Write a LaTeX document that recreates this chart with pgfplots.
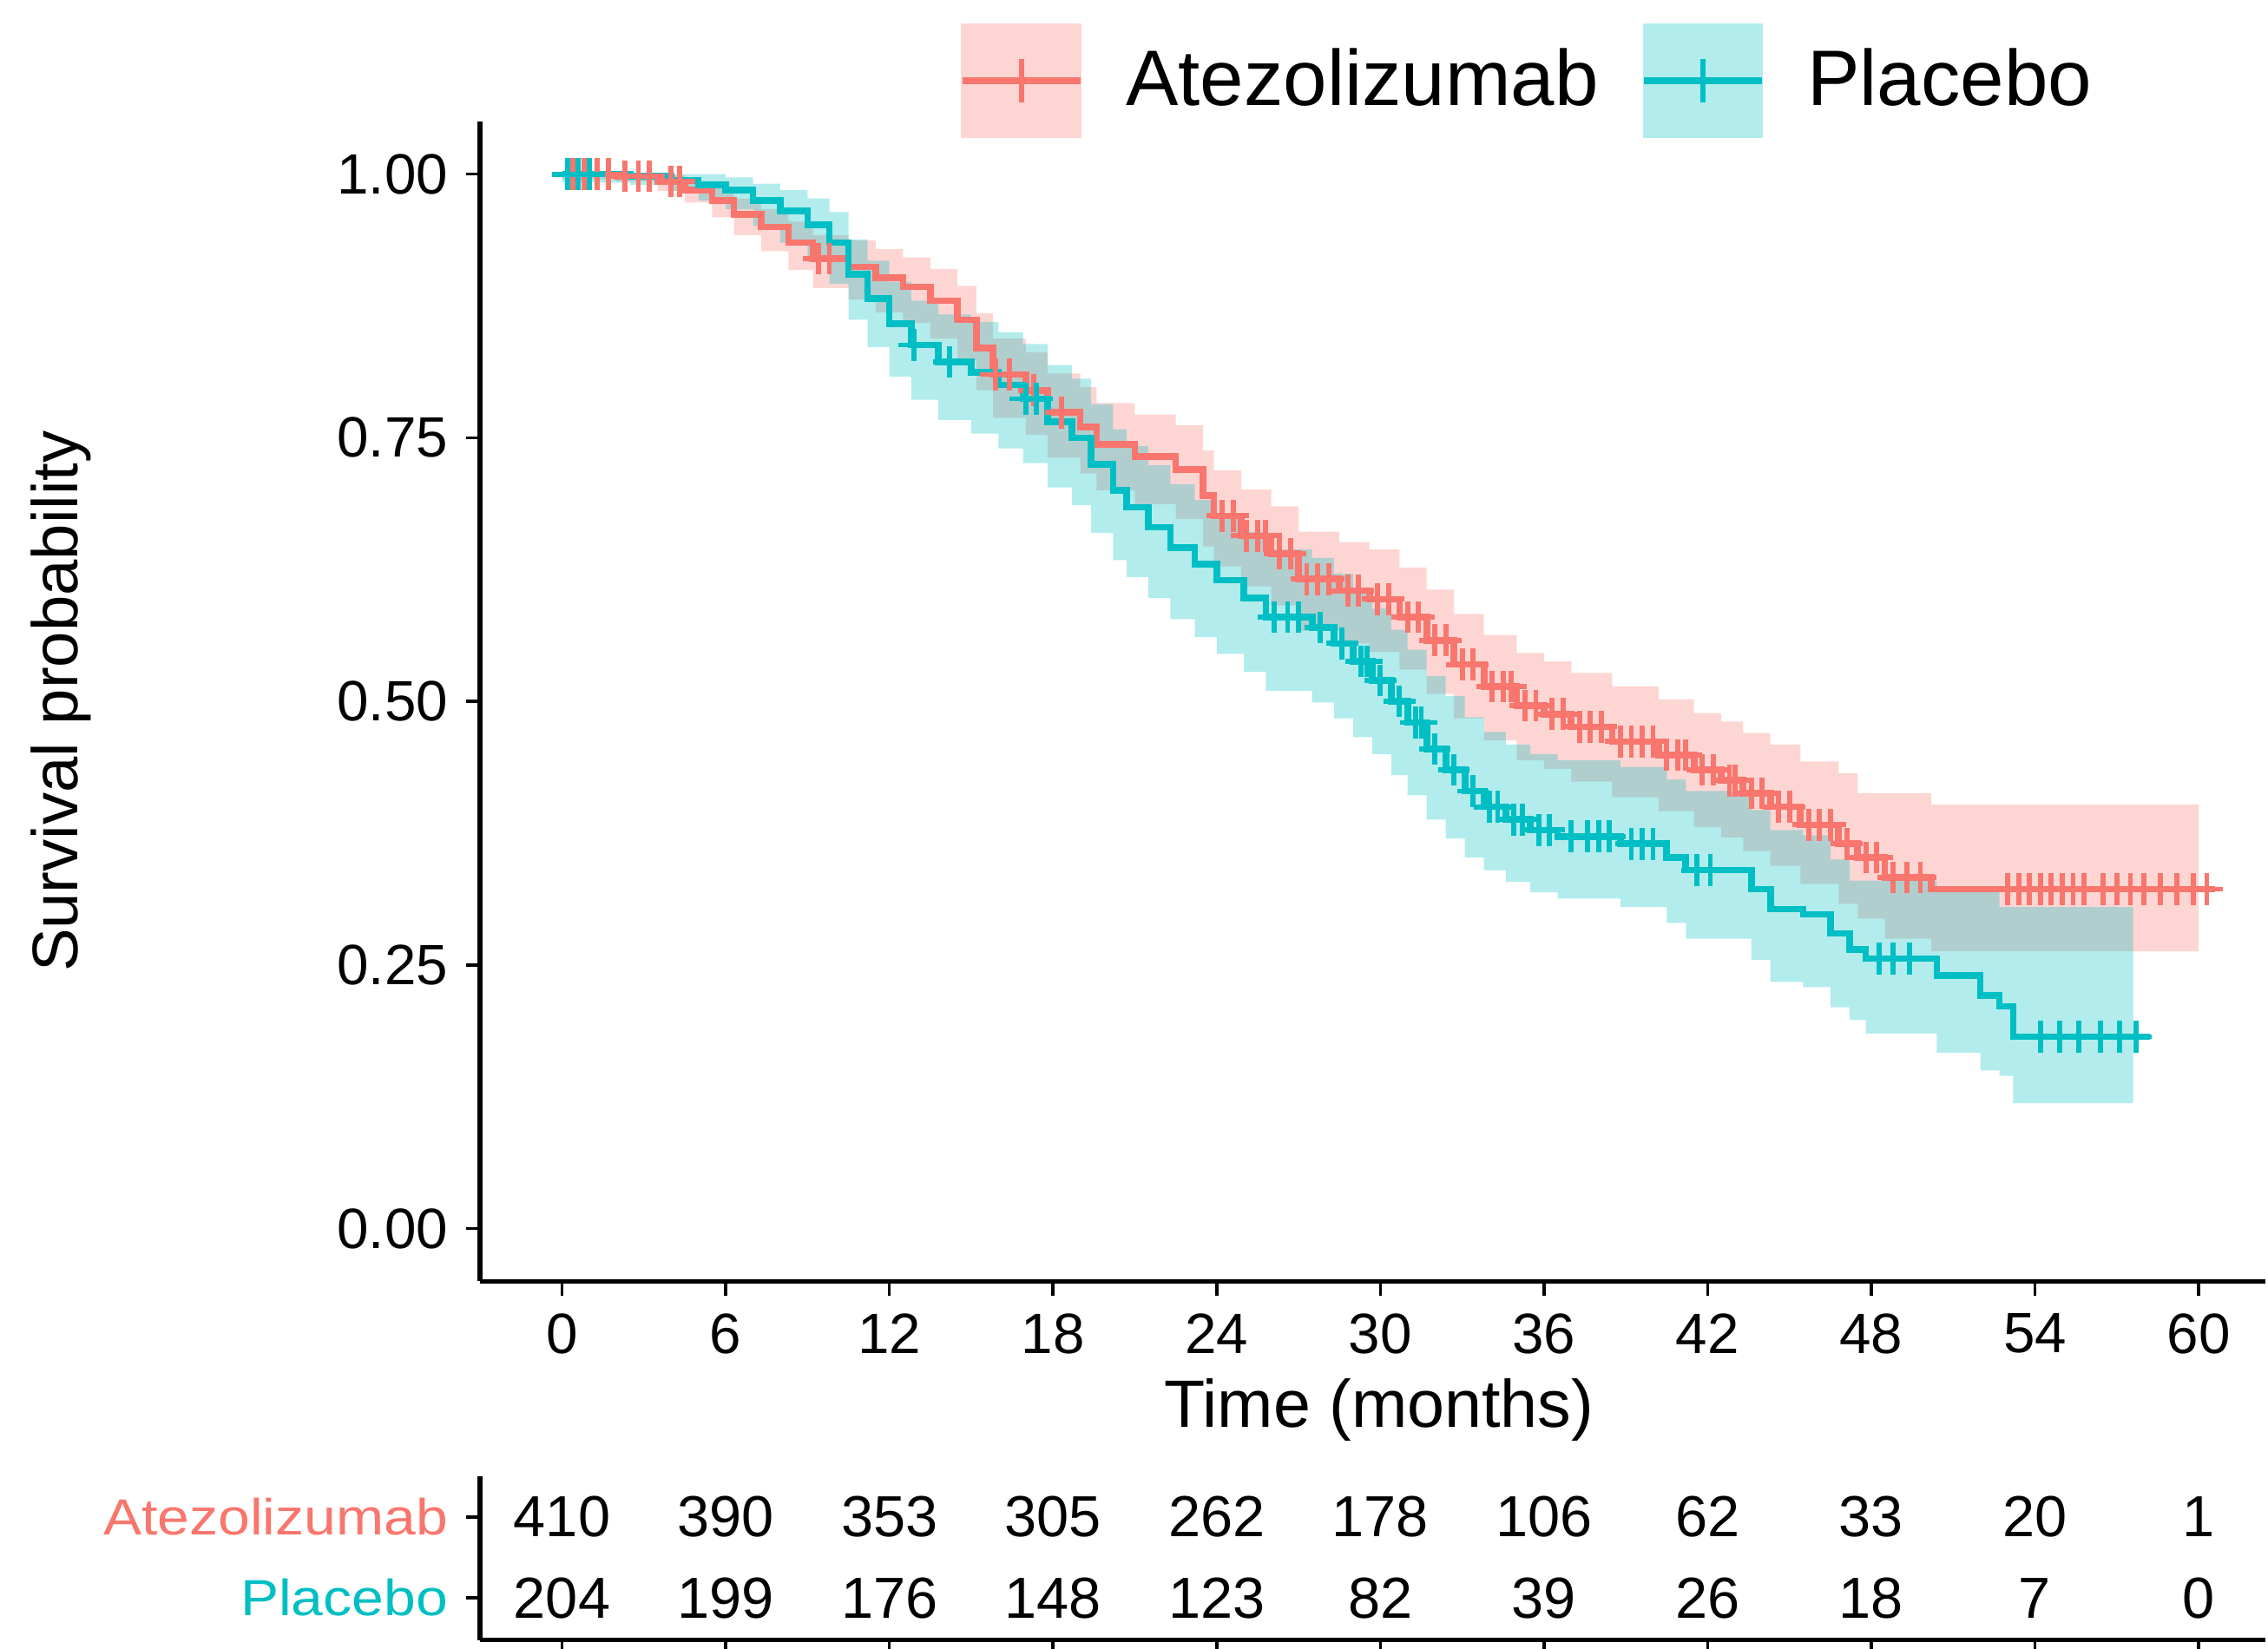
\documentclass[border=0pt]{standalone}
\usepackage{pgfplots}
\pgfplotsset{compat=1.18}
\usepgfplotslibrary{fillbetween}
\usepackage{pgfplotstable}
\usepackage{fontspec}
\setmainfont{Liberation Sans}
\newfontfamily\risklab{Liberation Sans}[FakeStretch=1.13]
\definecolor{atz}{HTML}{F8766D}
\definecolor{plc}{HTML}{00BFC4}

\pgfplotstableread{
t s
0 1.000
2 0.998
3.5 0.993
4.5 0.985
5.5 0.975
6.3 0.962
7.3 0.950
8.3 0.935
9.2 0.920
10.5 0.912
11.5 0.902
12.5 0.893
13.5 0.880
14.5 0.862
15.2 0.835
15.8 0.810
17 0.795
17.8 0.774
19 0.760
19.6 0.744
21 0.732
22.5 0.720
23.5 0.695
23.9 0.676
24.9 0.657
26 0.640
27 0.616
28.5 0.605
29.6 0.597
30.7 0.580
31.7 0.558
32.7 0.535
33.8 0.514
35 0.496
36 0.488
37 0.476
38.5 0.462
40.2 0.449
41.5 0.435
42.5 0.425
43.3 0.413
44.3 0.400
45.4 0.383
46.8 0.365
47.5 0.352
48.5 0.333
50.2 0.322
60.6 0.322
}\atzcurve

\pgfplotstableread{
t lo hi
0 0.995 1.000
2 0.993 1.000
3.5 0.984 0.999
4.5 0.973 0.993
5.5 0.959 0.987
6.3 0.942 0.977
7.3 0.927 0.967
8.3 0.909 0.955
9.2 0.892 0.942
10.5 0.881 0.937
11.5 0.869 0.929
12.5 0.859 0.921
13.5 0.844 0.910
14.5 0.823 0.894
15.2 0.795 0.868
15.8 0.769 0.844
17 0.753 0.831
17.8 0.731 0.811
19 0.716 0.798
19.6 0.700 0.783
21 0.687 0.772
22.5 0.673 0.762
23.5 0.647 0.738
23.9 0.628 0.719
24.9 0.609 0.701
26 0.591 0.685
27 0.567 0.661
28.5 0.555 0.651
29.6 0.547 0.644
30.7 0.530 0.627
31.7 0.507 0.606
32.7 0.484 0.583
33.8 0.463 0.563
35 0.444 0.546
36 0.436 0.538
37 0.424 0.527
38.5 0.409 0.514
40.2 0.396 0.502
41.5 0.381 0.489
42.5 0.371 0.481
43.3 0.358 0.470
44.3 0.344 0.459
45.4 0.327 0.443
46.8 0.308 0.432
47.5 0.294 0.413
48.5 0.275 0.413
50.2 0.263 0.402
60.0 0.263 0.402
}\atzband

\pgfplotstableread{
t s
0.4 1.000
0.8 1.000
1.3 1.000
1.7 1.000
2.3 0.998
2.8 0.998
3.2 0.998
4.0 0.993
4.3 0.993
9.4 0.920
9.8 0.920
15.9 0.810
16.4 0.810
17.3 0.795
18.3 0.774
24.2 0.676
24.6 0.676
25.1 0.657
25.5 0.657
25.8 0.657
26.3 0.640
26.7 0.640
27.3 0.616
27.7 0.616
28.1 0.616
28.8 0.605
29.2 0.605
29.9 0.597
30.3 0.597
31.0 0.580
31.4 0.580
32.0 0.558
32.4 0.558
33.0 0.535
33.4 0.535
34.1 0.514
34.5 0.514
34.8 0.514
35.3 0.496
35.7 0.496
36.3 0.488
36.7 0.488
37.3 0.476
37.7 0.476
38.1 0.476
38.8 0.462
39.2 0.462
39.6 0.462
40.0 0.462
40.5 0.449
40.9 0.449
41.2 0.449
41.8 0.435
42.2 0.435
42.8 0.425
43.0 0.425
43.6 0.413
44.0 0.413
44.6 0.400
45.0 0.400
45.7 0.383
46.1 0.383
46.5 0.383
47.1 0.365
47.8 0.352
48.2 0.352
48.8 0.333
49.3 0.333
49.8 0.333
53.0 0.322
53.4 0.322
53.8 0.322
54.2 0.322
54.6 0.322
55.0 0.322
55.4 0.322
55.8 0.322
56.5 0.322
57.0 0.322
57.5 0.322
58.0 0.322
58.6 0.322
59.2 0.322
59.8 0.322
60.3 0.322
}\atzcens

\pgfplotstableread{
t s
0 1.000
2.5 0.998
4 0.994
5 0.990
6 0.985
7 0.975
8 0.965
9 0.952
9.8 0.935
10.5 0.905
11.2 0.882
12 0.858
12.8 0.838
13.8 0.822
15 0.812
16 0.800
16.9 0.787
17.8 0.765
18.7 0.750
19.4 0.725
20.2 0.700
20.7 0.684
21.5 0.665
22.3 0.646
23.2 0.630
24 0.615
25 0.598
25.8 0.580
27.5 0.570
28.3 0.555
29 0.538
29.7 0.520
30.4 0.500
31 0.480
31.7 0.455
32.4 0.435
33.1 0.415
33.8 0.400
34.6 0.388
35.5 0.378
36.5 0.372
38.8 0.365
40.5 0.352
41.2 0.340
43.6 0.322
44.3 0.303
45.5 0.298
46.5 0.280
47.2 0.265
47.8 0.256
50.4 0.240
52 0.221
52.7 0.211
53.2 0.182
58.2 0.182
}\plccurve

\pgfplotstableread{
t lo hi
0 0.992 1.000
2.5 0.990 1.000
4 0.984 1.000
5 0.975 1.000
6 0.967 0.997
7 0.951 0.991
8 0.935 0.985
9 0.917 0.977
9.8 0.896 0.964
10.5 0.862 0.938
11.2 0.836 0.918
12 0.808 0.898
12.8 0.786 0.880
13.8 0.767 0.867
15 0.754 0.860
16 0.740 0.850
16.9 0.726 0.839
17.8 0.703 0.819
18.7 0.686 0.806
19.4 0.660 0.782
20.2 0.634 0.758
20.7 0.618 0.742
21.5 0.598 0.724
22.3 0.578 0.706
23.2 0.561 0.691
24 0.545 0.677
25 0.528 0.661
25.8 0.510 0.644
27.5 0.499 0.636
28.3 0.484 0.621
29 0.466 0.605
29.7 0.450 0.588
30.4 0.430 0.568
31 0.411 0.549
31.7 0.388 0.524
32.4 0.370 0.505
33.1 0.352 0.485
33.8 0.340 0.471
34.6 0.329 0.459
35.5 0.319 0.450
36.5 0.313 0.444
38.8 0.305 0.438
40.5 0.290 0.426
41.2 0.275 0.415
43.6 0.255 0.397
44.3 0.234 0.378
45.5 0.229 0.373
46.5 0.210 0.350
47.2 0.198 0.330
47.8 0.185 0.330
50.4 0.167 0.320
52 0.150 0.320
52.7 0.145 0.305
53.2 0.119 0.305
57.6 0.119 0.305
}\plcband

\pgfplotstableread{
t s
0.2 1.000
0.6 1.000
1.0 1.000
12.9 0.838
14.2 0.822
17.0 0.787
17.4 0.787
26.1 0.580
26.6 0.580
27.0 0.580
27.8 0.570
28.6 0.555
29.3 0.538
29.5 0.538
30.0 0.520
30.7 0.500
31.3 0.480
31.5 0.480
32.0 0.455
32.7 0.435
33.4 0.415
34.0 0.400
34.3 0.400
34.9 0.388
35.2 0.388
35.8 0.378
36.2 0.378
37.0 0.372
37.6 0.372
38.0 0.372
38.4 0.372
39.2 0.365
39.6 0.365
40.0 0.365
41.6 0.340
42.1 0.340
48.3 0.256
48.8 0.256
49.4 0.256
54.2 0.182
54.9 0.182
55.6 0.182
56.4 0.182
57.1 0.182
57.7 0.182
}\plccens

\pgfplotstableread{
t y n
0 2 410
6 2 390
12 2 353
18 2 305
24 2 262
30 2 178
36 2 106
42 2 62
48 2 33
54 2 20
60 2 1
}\atzrisk

\pgfplotstableread{
t y n
0 1 204
6 1 199
12 1 176
18 1 148
24 1 123
30 1 82
36 1 39
42 1 26
48 1 18
54 1 7
60 1 0
}\plcrisk

\begin{document}
\begin{tikzpicture}
\path (0,0) rectangle (156.8mm,-114.1mm);
\begin{axis}[
  at={(33.236mm,-88.695mm)}, anchor=south west,
  width=123.56mm, height=80.29mm, scale only axis,
  xmin=-3, xmax=62.45, ymin=-0.05, ymax=1.05,
  axis x line*=bottom, axis y line*=left,
  axis line style={line width=1pt, -},
  tick style={line width=0.6pt, black},
  tick align=outside, major tick length=1mm,
  xtick={0,6,...,60},
  ytick={0,0.25,0.5,0.75,1},
  yticklabels={0.00,0.25,0.50,0.75,1.00},
  /pgf/number format/assume math mode=true,
  ticklabel style={font=\fontsize{11.2}{13}\selectfont},
  xlabel={Time (months)}, ylabel={Survival probability},
  xlabel style={font=\fontsize{13.2}{15}\selectfont, at={(axis description cs:0.5035,-0.1259)}, anchor=base},
  ylabel style={font=\fontsize{12.7}{15}\selectfont, at={(axis description cs:-0.235,0.5)}, anchor=center},
  legend style={at={(axis description cs:0.2676,1.0349)}, anchor=west,
    draw=none, fill=none, inner sep=0pt,
    font=\fontsize{15.5}{18}\selectfont,
    /tikz/every even column/.append style={column sep=2.2mm}},
  legend columns=2, legend cell align=left,
]
\addlegendimage{legend image code/.code={
  \fill[atz!30] (0mm,-3.9mm) rectangle (8.2mm,3.9mm);
  \draw[atz, line width=1.3pt] (0mm,0mm) -- (8.2mm,0mm);
  \draw[atz, line width=1.1pt] (4.1mm,-1.5mm) -- (4.1mm,1.5mm);
}}
\addlegendentry{\hspace*{2.2mm}Atezolizumab}
\addlegendimage{legend image code/.code={
  \fill[plc!30] (0mm,-3.9mm) rectangle (8.2mm,3.9mm);
  \draw[plc, line width=1.3pt] (0mm,0mm) -- (8.2mm,0mm);
  \draw[plc, line width=1.1pt] (4.1mm,-1.5mm) -- (4.1mm,1.5mm);
}}
\addlegendentry{\hspace*{2.2mm}Placebo}

\addplot[name path=ahi, draw=none, const plot, forget plot] table[x=t, y=hi] {\atzband};
\addplot[name path=alo, draw=none, const plot, forget plot] table[x=t, y=lo] {\atzband};
\addplot[fill=atz, fill opacity=0.3, draw=none, forget plot] fill between[of=ahi and alo];
\addplot[name path=phi, draw=none, const plot, forget plot] table[x=t, y=hi] {\plcband};
\addplot[name path=plo, draw=none, const plot, forget plot] table[x=t, y=lo] {\plcband};
\addplot[fill=plc, fill opacity=0.3, draw=none, forget plot] fill between[of=phi and plo];

\addplot[atz, line width=1.3pt, const plot, forget plot] table[x=t, y=s] {\atzcurve};
\addplot[plc, line width=1.3pt, const plot, forget plot] table[x=t, y=s] {\plccurve};
\addplot[atz, only marks, mark=+, mark size=1.1mm, mark options={line width=1pt}, forget plot] table[x=t, y=s] {\atzcens};
\addplot[plc, only marks, mark=+, mark size=1.1mm, mark options={line width=1pt}, forget plot] table[x=t, y=s] {\plccens};
\end{axis}

\begin{axis}[
  at={(33.236mm,-113.51mm)}, anchor=south west,
  width=123.56mm, height=11.31mm, scale only axis,
  xmin=-3, xmax=62.45, ymin=0.48, ymax=2.5,
  axis x line*=bottom, axis y line*=left,
  axis line style={line width=1pt, -},
  tick style={line width=0.6pt, black},
  tick align=outside, major tick length=1mm,
  xtick={0,6,...,60}, xticklabels={},
  xtick style={overlay}, xticklabel style={overlay},
  ytick={1,2},
  yticklabels={\textcolor{plc}{Placebo}, \textcolor{atz}{Atezolizumab}},
  yticklabel style={font=\risklab\fontsize{10}{12}\selectfont},
]
\addplot[draw=none, nodes near coords, point meta=explicit symbolic,
  nodes near coords style={anchor=center, font=\fontsize{11.4}{13}\selectfont, text=black}]
  table[x=t, y=y, meta=n] {\atzrisk};
\addplot[draw=none, nodes near coords, point meta=explicit symbolic,
  nodes near coords style={anchor=center, font=\fontsize{11.4}{13}\selectfont, text=black}]
  table[x=t, y=y, meta=n] {\plcrisk};
\end{axis}
\end{tikzpicture}
\end{document}
